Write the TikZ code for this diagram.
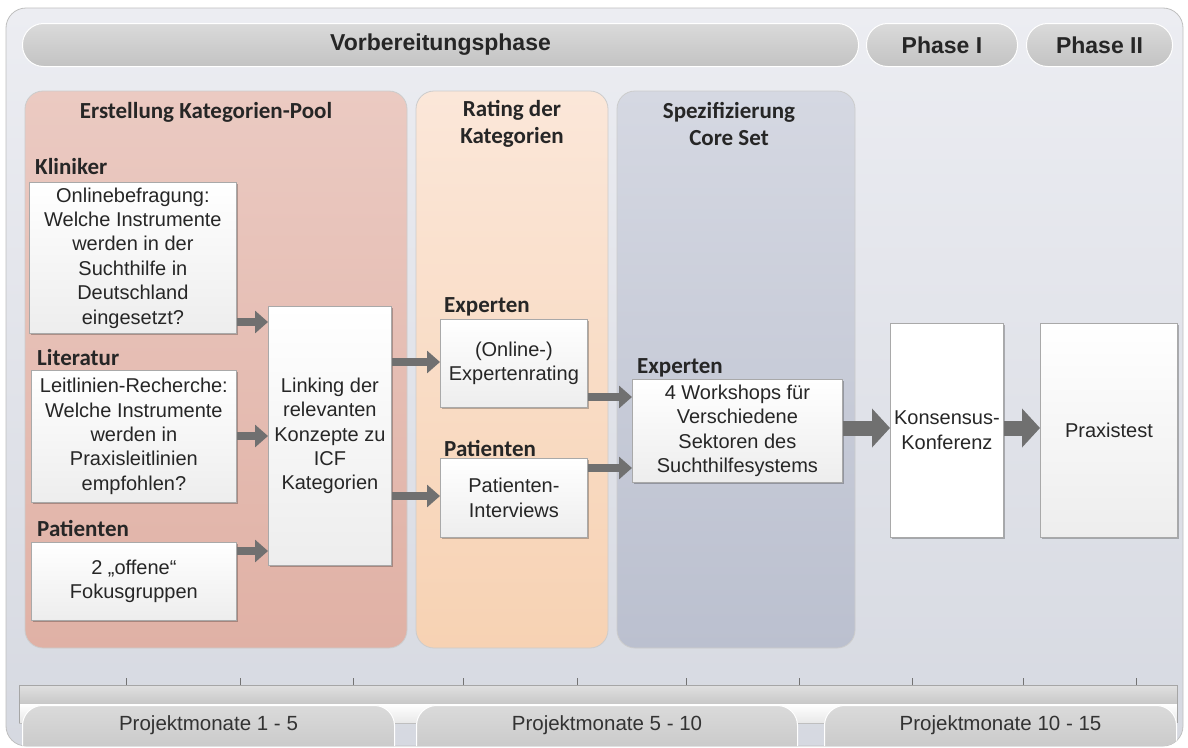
\documentclass[tikz,border=0pt]{standalone}
\usepackage{fontspec}
\setmainfont{Liberation Sans}
\newfontfamily\calibri{Carlito}
\usetikzlibrary{arrows.meta,shadows}
\definecolor{outertop}{HTML}{ECEDF2}
\definecolor{outerbot}{HTML}{D6D9E1}
\definecolor{pilltop}{HTML}{DADADA}
\definecolor{pillbot}{HTML}{C3C3C3}
\definecolor{redtop}{HTML}{EBCAC2}
\definecolor{redbot}{HTML}{E0B1A5}
\definecolor{orgtop}{HTML}{FBE7D9}
\definecolor{orgbot}{HTML}{F7D2B3}
\definecolor{blutop}{HTML}{D5D8E2}
\definecolor{blubot}{HTML}{BBC0CF}
\definecolor{arrowgray}{HTML}{707070}
\definecolor{boxline}{HTML}{A9A9A9}
\definecolor{txt}{HTML}{262626}
\tikzset{
  pill/.style={rounded corners=21pt, top color=pilltop, bottom color=pillbot, draw=white, line width=1pt, anchor=north west, text=txt},
  hdr/.style={pill, minimum height=43pt, font=\bfseries\fontsize{23}{26}\selectfont},
  panel/.style={rounded corners=18pt, draw=black!20, line width=0.8pt},
  box/.style={draw=boxline, line width=0.8pt, top color=white, bottom color=black!7, align=center,
    font=\fontsize{20}{24.4}\selectfont, text=txt, inner sep=1pt, anchor=north west,
    drop shadow={shadow xshift=1.2pt, shadow yshift=-1.2pt, opacity=0.25, fill=black}},
  lbl/.style={font=\calibri\bfseries\fontsize{23}{27}\selectfont, text=txt, anchor=west, inner sep=0pt},
  ttl/.style={font=\calibri\bfseries\fontsize{23}{27.5}\selectfont, text=txt, align=center, inner sep=0pt},
  flowarrow/.style={draw=arrowgray, line width=8pt, -{Triangle[length=13pt,width=22pt]}},
  bigarrow/.style={draw=arrowgray, line width=15pt, -{Triangle[length=18pt,width=38pt]}},
  monat/.style={pill, rounded corners=20pt, anchor=north west},
  monattext/.style={font=\fontsize{20.5}{24}\selectfont, text=black!80}
}
\begin{document}
\begin{tikzpicture}[x=1pt,y=-1pt]
\useasboundingbox (0,0) rectangle (1188,747);
% outer panel
\shade[top color=outertop, bottom color=outerbot, rounded corners=20pt, draw=black!25, line width=0.8pt] (6,8) rectangle (1183,746);
% header pills
\node[hdr, minimum width=836pt] (vb) at (22,23) {Vorbereitungsphase};
\node[hdr, minimum width=151pt] (p1) at (866,23) {Phase I};
\node[hdr, minimum width=146pt] (p2) at (1026,23) {Phase II};
% column panels
\shade[panel, top color=redtop, bottom color=redbot] (25,91) rectangle (407,648);
\shade[panel, top color=orgtop, bottom color=orgbot] (416,91) rectangle (608,648);
\shade[panel, top color=blutop, bottom color=blubot] (617,91) rectangle (855,648);
\node[ttl] (t1) at (206,112) {Erstellung Kategorien-Pool};
\node[ttl] (t2) at (512,124) {Rating der\\Kategorien};
\node[ttl] (t3) at (729,124) {Spezifizierung\\Core Set};
% labels
\node[lbl] (lk) at (35,167) {Kliniker};
\node[lbl] (ll) at (37,358) {Literatur};
\node[lbl] (lp) at (37,528) {Patienten};
\node[lbl] (le) at (444,307) {Experten};
\node[lbl] (lpi) at (444,448) {Patienten};
\node[lbl] (lw) at (637,368) {Experten};
% boxes
\node[box, minimum width=207pt, minimum height=151pt] (kl) at (29,182) {Onlinebefragung:\\Welche Instrumente\\werden in der\\Suchthilfe in\\Deutschland\\eingesetzt?};
\node[box, minimum width=205pt, minimum height=132pt] (lit) at (31,370) {Leitlinien-Recherche:\\Welche Instrumente\\werden in\\Praxisleitlinien\\empfohlen?};
\node[box, minimum width=205pt, minimum height=78pt] (pat) at (31,542) {2 „offene“\\Fokusgruppen};
\node[box, minimum width=123pt, minimum height=259pt] (link) at (268,306) {Linking der\\relevanten\\Konzepte zu\\ICF\\Kategorien};
\node[box, minimum width=147pt, minimum height=88pt] (exr) at (440,319) {(Online-)\\Expertenrating};
\node[box, minimum width=147pt, minimum height=79pt] (pint) at (440,458) {Patienten-\\Interviews};
\node[box, minimum width=210pt, minimum height=103pt] (ws) at (632,379) {4 Workshops für\\Verschiedene\\Sektoren des\\Suchthilfesystems};
\node[box, minimum width=113pt, minimum height=214pt, bottom color=white] (kk) at (890,323) {Konsensus-\\Konferenz};
\node[box, minimum width=137pt, minimum height=214pt] (pt) at (1040,323) {Praxistest};
% arrows
\draw[flowarrow] (kl.east |- 0,322) -- (link.west |- 0,322);
\draw[flowarrow] (lit.east |- 0,436) -- (link.west |- 0,436);
\draw[flowarrow] (pat.east |- 0,551) -- (link.west |- 0,551);
\draw[flowarrow] (link.east |- 0,362) -- (exr.west |- 0,362);
\draw[flowarrow] (link.east |- 0,496) -- (pint.west |- 0,496);
\draw[flowarrow] (exr.east |- 0,397) -- (ws.west |- 0,397);
\draw[flowarrow] (pint.east |- 0,468) -- (ws.west |- 0,468);
\draw[bigarrow] (ws.east |- 0,428) -- (kk.west |- 0,428);
\draw[bigarrow] (kk.east |- 0,428) -- (pt.west |- 0,428);
% timeline
\shade[top color=black!12, bottom color=black!22] (19,685) rectangle (1177,704);
\shade[top color=white, bottom color=black!9] (19,704) rectangle (1177,723);
\draw[black!35, line width=0.8pt] (19,723) -- (19,685) -- (1177,685) -- (1177,723);
\draw[black!25, line width=0.8pt] (19,723) -- (1177,723);
\foreach \tx in {126,240,353,463,577,686,799,912,1023,1136}
  \draw[black!55, line width=0.8pt] (\tx,678) -- (\tx,685);
\begin{scope}
\clip[rounded corners=20pt] (6,8) rectangle (1183,746);
\node[monat, minimum width=372pt, minimum height=62pt] (m1) at (22,705) {};
\node[monat, minimum width=381pt, minimum height=62pt] (m2) at (416,705) {};
\node[monat, minimum width=352pt, minimum height=62pt] (m3) at (824,705) {};
\end{scope}
\node[monattext] (m1t) at (m1.north |- 0,725) {Projektmonate 1 - 5};
\node[monattext] (m2t) at (m2.north |- 0,725) {Projektmonate 5 - 10};
\node[monattext] (m3t) at (m3.north |- 0,725) {Projektmonate 10 - 15};
\end{tikzpicture}
\end{document}
